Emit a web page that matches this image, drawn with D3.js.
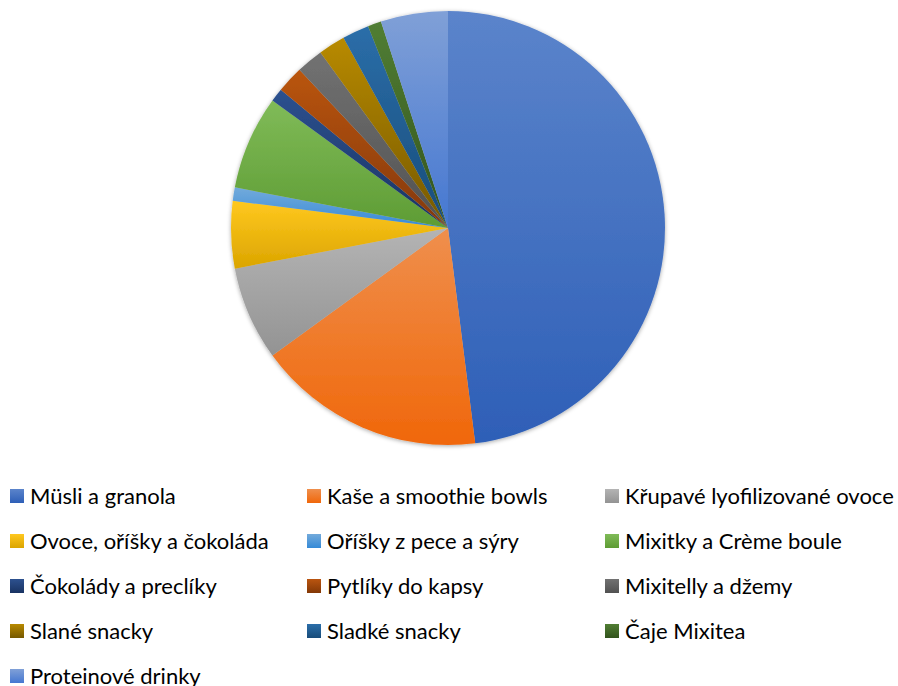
<!DOCTYPE html>
<html>
<head>
<meta charset="utf-8">
<script src="https://cdn.jsdelivr.net/npm/d3@7"></script>
<style>
  body { margin: 0; background: #fff; }
  text { font-family: Lato, "Noto Sans", sans-serif; fill: #000; }
</style>
</head>
<body>
<div id="chart"></div>
<script>
// categories and shares (percent)
const categories = [
  "Müsli a granola", "Kaše a smoothie bowls", "Křupavé lyofilizované ovoce",
  "Ovoce, oříšky a čokoláda", "Oříšky z pece a sýry", "Mixitky a Crème boule",
  "Čokolády a preclíky", "Pytlíky do kapsy", "Mixitelly a džemy",
  "Slané snacky", "Sladké snacky", "Čaje Mixitea", "Proteinové drinky"
];
const values = [48, 17, 7, 5, 1, 7, 1, 2, 2, 2, 2, 1, 5];
const colors = [
  "#4472C4", "#ED7D31", "#A5A5A5", "#FFC000", "#5B9BD5", "#70AD47",
  "#264478", "#9E480E", "#636363", "#997300", "#255E91", "#43682B", "#698ED0"
];

const W = 898, H = 686;
const cx = 448, cy = 228, radius = 217;

const svg = d3.select("#chart").append("svg")
  .attr("width", W).attr("height", H);

const defs = svg.append("defs");

// soft shadow round the pie
const shadow = defs.append("filter").attr("id", "shadow")
  .attr("x", "-10%").attr("y", "-10%").attr("width", "120%").attr("height", "120%");
shadow.append("feDropShadow")
  .attr("dx", 0).attr("dy", 1).attr("stdDeviation", 2)
  .attr("flood-color", "#000").attr("flood-opacity", 0.35);

// vertical gradient for each colour, lighter on top, deeper at the bottom
colors.forEach((c, i) => {
  const top = d3.hsl(c), bot = d3.hsl(c);
  top.l = Math.min(1, top.l + 0.06);
  bot.l = bot.l - 0.07;
  if (bot.s > 0) bot.s = Math.min(1, bot.s + 0.08);
  const g = defs.append("linearGradient").attr("id", "grad" + i)
    .attr("x1", 0).attr("y1", 0).attr("x2", 0).attr("y2", 1);
  g.append("stop").attr("offset", "0%").attr("stop-color", top.formatHex());
  g.append("stop").attr("offset", "100%").attr("stop-color", bot.formatHex());
});

const pie = d3.pie().sort(null).value(d => d.value);
const arc = d3.arc().innerRadius(0).outerRadius(radius);

const data = categories.map((c, i) => ({ name: c, value: values[i], i: i }));

const g = svg.append("g")
  .attr("transform", `translate(${cx},${cy})`)
  .attr("filter", "url(#shadow)");

g.selectAll("path")
  .data(pie(data))
  .join("path")
  .attr("d", arc)
  .attr("fill", d => `url(#grad${d.data.i})`);

// legend, 3 columns
const colX = [10, 307, 605];
const rowY = 496, rowStep = 45;
const legend = svg.append("g");

const item = legend.selectAll("g")
  .data(data)
  .join("g")
  .attr("transform", d => `translate(${colX[d.i % 3]},${rowY + Math.floor(d.i / 3) * rowStep})`);

item.append("rect")
  .attr("x", 0).attr("y", -7)
  .attr("width", 14).attr("height", 14)
  .attr("fill", d => `url(#grad${d.i})`);

item.append("text")
  .attr("x", 20).attr("y", 0)
  .attr("dy", "0.35em")
  .style("font-size", "22px")
  .text(d => d.name);
</script>
</body>
</html>
